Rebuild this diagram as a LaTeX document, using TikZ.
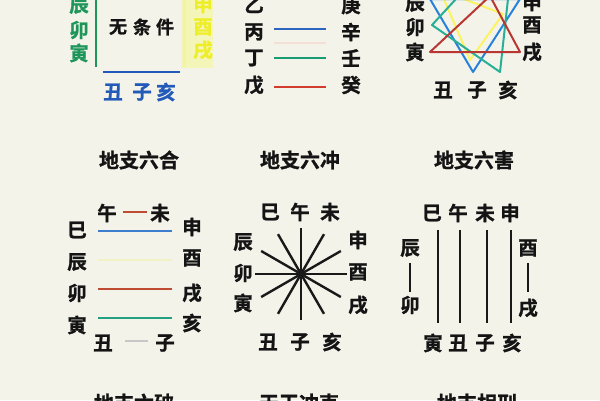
\documentclass[tikz,border=0pt]{standalone}
\usepackage{fontspec}
\usetikzlibrary{calc}
\newfontfamily\cjk{Noto Sans CJK SC Bold}[FakeBold=1.2]
\definecolor{bg}{RGB}{243,243,234}
\definecolor{tlgreen}{RGB}{30,150,90}
\definecolor{tlblue}{RGB}{35,90,185}
\definecolor{lblue}{RGB}{45,100,190}
\definecolor{lgreen}{RGB}{25,155,115}
\definecolor{lred}{RGB}{210,60,45}
\definecolor{hred}{RGB}{190,75,50}
\definecolor{hblue}{RGB}{60,125,205}
\definecolor{hgreen}{RGB}{35,160,130}
\definecolor{pyellow}{RGB}{240,242,195}
\definecolor{yglow}{RGB}{244,245,185}
\definecolor{ytext}{RGB}{238,238,40}
\definecolor{triblue}{RGB}{40,130,220}
\definecolor{trigreen}{RGB}{40,175,150}
\definecolor{trired}{RGB}{185,55,50}
\begin{document}
\begin{tikzpicture}[x=1pt,y=-1pt,
  ch/.style={font=\cjk\fontsize{19.5}{19.5}\selectfont, inner sep=0pt, text=black!92},
  ttl/.style={font=\cjk\fontsize{20}{20}\selectfont, inner sep=0pt, text=black!92},
  bar/.style={line width=2.6pt},
  spoke/.style={line width=2.4pt, black!90},
  tri/.style={line width=2pt, line join=round}]
\useasboundingbox (0,0) rectangle (600,400);
\fill[bg] (0,0) rectangle (600,400);

% ---------- top-left panel ----------
\node[ch,text=tlgreen] (a1) at (79,5) {辰};
\node[ch,text=tlgreen] (a2) at (79,30) {卯};
\node[ch,text=tlgreen] (a3) at (79,53) {寅};
\coordinate (ag1) at (96,-2); \coordinate (ag2) at (96,67);
\draw[tlgreen, line width=1.8pt] (ag1) -- (ag2);
\node[ch,font=\cjk\fontsize{18}{18}\selectfont] (w1) at (118,27) {无};
\node[ch,font=\cjk\fontsize{18}{18}\selectfont] (w2) at (142,27) {条};
\node[ch,font=\cjk\fontsize{18}{18}\selectfont] (w3) at (165,27) {件};
\fill[yglow] (181,-2) rectangle (213,68);
\coordinate (ay1) at (184,-2); \coordinate (ay2) at (184,67);
\draw[pyellow!80!yellow, line width=3pt] (ay1) -- (ay2);
\node[ch,text=ytext] (y1) at (203,4) {申};
\node[ch,text=ytext] (y2) at (203,27) {酉};
\node[ch,text=ytext] (y3) at (203,50) {戌};
\coordinate (ab1) at (103,72); \coordinate (ab2) at (180,72);
\draw[tlblue, bar] (ab1) -- (ab2);
\node[ch,text=tlblue] (b1) at (113,92) {丑};
\node[ch,text=tlblue] (b2) at (142,92) {子};
\node[ch,text=tlblue] (b3) at (166,92) {亥};

% ---------- top-middle panel ----------
\node[ch] (g1) at (254,5) {乙};
\node[ch] (g2) at (254,32) {丙};
\node[ch] (g3) at (254,58) {丁};
\node[ch] (g4) at (254,85) {戊};
\node[ch] (h1) at (351,5) {庚};
\node[ch] (h2) at (351,32) {辛};
\node[ch] (h3) at (351,58) {壬};
\node[ch] (h4) at (351,85) {癸};
\coordinate (tl1) at (274,29); \coordinate (tr1) at (326,29);
\coordinate (tl2) at (274,43); \coordinate (tr2) at (326,43);
\coordinate (tl3) at (274,58); \coordinate (tr3) at (326,58);
\coordinate (tl4) at (274,87); \coordinate (tr4) at (326,87);
\draw[lblue, bar] (tl1) -- (tr1);
\draw[red!8!bg, bar] (tl2) -- (tr2);
\draw[lgreen, bar] (tl3) -- (tr3);
\draw[lred, bar] (tl4) -- (tr4);

% ---------- top-right panel ----------
\begin{scope}
\clip (405,0) rectangle (545,80);
\draw[tri, yellow!60!bg] (440,-10) -- (503,14) -- (470,60) -- cycle;
\draw[tri, triblue] (430,-1) -- (520,-1) -- (473,72) -- cycle;
\draw[tri, trigreen] (432,25) -- (500,72) -- (515,-65) -- cycle;
\draw[tri, trired] (430,52) -- (520,52) -- (490,-4) -- cycle;
\end{scope}
\node[ch] (s1) at (415,3) {辰};
\node[ch] (s2) at (415,27) {卯};
\node[ch] (s3) at (415,52) {寅};
\node[ch] (s4) at (532,2) {申};
\node[ch] (s5) at (532,25) {酉};
\node[ch] (s6) at (532,52) {戌};
\node[ch] (s7) at (443,90) {丑};
\node[ch] (s8) at (477,90) {子};
\node[ch] (s9) at (508,90) {亥};

% ---------- middle titles ----------
\node[ttl] (t1) at (139,160) {地支六合};
\node[ttl] (t2) at (300,160) {地支六冲};
\node[ttl] (t3) at (474,160) {地支六害};

% ---------- 六合 ----------
\node[ch] (m1) at (107,213) {午};
\node[ch] (m2) at (160,213) {未};
\coordinate (mr1) at (123,212); \coordinate (mr2) at (147,212);
\draw[hred, bar] (mr1) -- (mr2);
\node[ch] (l1) at (77,230) {巳};
\node[ch] (l2) at (77,262) {辰};
\node[ch] (l3) at (77,293) {卯};
\node[ch] (l4) at (77,325) {寅};
\node[ch] (r1) at (192,227) {申};
\node[ch] (r2) at (192,258) {酉};
\node[ch] (r3) at (192,293) {戌};
\node[ch] (r4) at (192,323) {亥};
\coordinate (ll1) at (98,231); \coordinate (rr1) at (172,231);
\coordinate (ll2) at (98,260); \coordinate (rr2) at (172,260);
\coordinate (ll3) at (98,289); \coordinate (rr3) at (172,289);
\coordinate (ll4) at (98,318); \coordinate (rr4) at (172,318);
\draw[hblue, bar] (ll1) -- (rr1);
\draw[pyellow, bar] (ll2) -- (rr2);
\draw[hred, bar] (ll3) -- (rr3);
\draw[hgreen, bar] (ll4) -- (rr4);
\node[ch] (n1) at (103,343) {丑};
\node[ch] (n2) at (165,343) {子};
\coordinate (nn1) at (125,341); \coordinate (nn2) at (148,341);
\draw[black!22, line width=2pt] (nn1) -- (nn2);

% ---------- 六冲 ----------
\node[ch] (c1) at (270,212) {巳};
\node[ch] (c2) at (300,212) {午};
\node[ch] (c3) at (330,212) {未};
\node[ch] (c4) at (243,242) {辰};
\node[ch] (c5) at (243,273) {卯};
\node[ch] (c6) at (243,303) {寅};
\node[ch] (c7) at (358,240) {申};
\node[ch] (c8) at (358,272) {酉};
\node[ch] (c9) at (358,305) {戌};
\node[ch] (c10) at (268,342) {丑};
\node[ch] (c11) at (300,342) {子};
\node[ch] (c12) at (332,342) {亥};
\coordinate (ctr) at (301,274);
\foreach \a in {0,30,...,150}
  \draw[spoke] ($(ctr)+(\a:46)$) -- ($(ctr)+(\a+180:46)$);

% ---------- 六害 ----------
\node[ch] (e1) at (432,213) {巳};
\node[ch] (e2) at (458,213) {午};
\node[ch] (e3) at (485,213) {未};
\node[ch] (e4) at (510,213) {申};
\node[ch] (e5) at (410,248) {辰};
\node[ch] (e6) at (410,305) {卯};
\node[ch] (e7) at (528,248) {酉};
\node[ch] (e8) at (528,308) {戌};
\node[ch] (e9) at (433,343) {寅};
\node[ch] (e10) at (458,343) {丑};
\node[ch] (e11) at (485,343) {子};
\node[ch] (e12) at (512,343) {亥};
\coordinate (v1) at (410,263); \coordinate (v2) at (410,292);
\coordinate (v3) at (528,263); \coordinate (v4) at (528,292);
\draw[spoke] (v1) -- (v2);
\draw[spoke] (v3) -- (v4);
\foreach \x in {438,460,487,511}
  \draw[spoke] (\x,230) -- (\x,323);

% ---------- bottom titles ----------
\node[ttl] (u1) at (134,403) {地支六破};
\node[ttl] (u2) at (299,403) {天干冲克};
\node[ttl] (u3) at (477,403) {地支相刑};
\end{tikzpicture}
\end{document}
